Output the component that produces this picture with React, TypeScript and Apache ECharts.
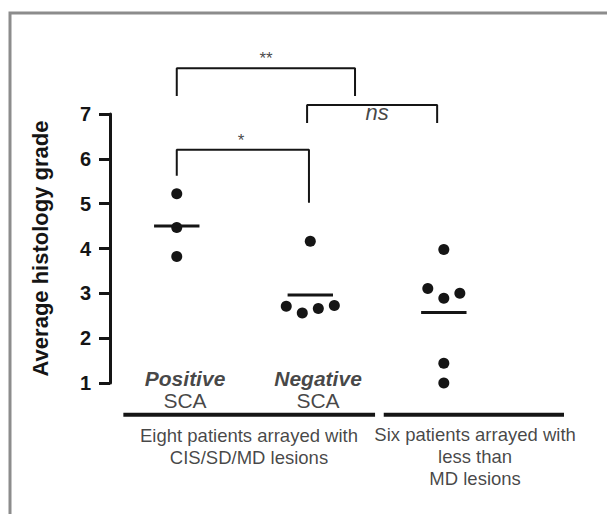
import React, { useEffect, useRef } from "react";
import * as echarts from "echarts";

// Group positions on the x scale
const groupX = [1, 2, 3];
const groupNames = ["Positive SCA", "Negative SCA", "Less than MD"];

// Average histology grade per patient
const positiveValues = [5.22, 4.47, 3.82];
const positiveJitter = [0, 0, 0];
const negativeValues = [4.16, 2.71, 2.56, 2.66, 2.73];
const negativeJitter = [0, -0.18, -0.06, 0.06, 0.18];
const lesserValues = [3.98, 3.11, 2.89, 3.0, 1.44, 1.0];
const lesserJitter = [0, -0.12, 0, 0.12, 0, 0];

const yTicks = [1, 2, 3, 4, 5, 6, 7];

// Significance brackets: [from, to, top, leftEnd, rightEnd]
const bracketStars = [1, 2.335, 8.02, 7.4, 7.4];
const bracketNs = [1.976, 2.95, 7.2, 6.8, 6.8];
const bracketOne = [1, 1.99, 6.2, 5.62, 5.02];
const bracketLabels = ["**", "ns", "*"];
const bracketLabelPos = [
  [1.669, 8.24],
  [2.5, 7.03],
  [1.481, 6.42],
];

// Category labels beneath the axis
const catLabelTop = ["Positive", "Negative"];
const catLabelBottom = ["SCA", "SCA"];
const catLabelX = [1.062, 2.058];
const groupLineSegments = [
  [0.6, 2.485],
  [2.55, 3.9],
];
const groupLineY = 0.29;
const groupCaptions = [
  "Eight patients arrayed with\nCIS/SD/MD lesions",
  "Six patients arrayed with\nless than\nMD lesions",
];
const groupCaptionPos = [
  [1.541, -0.41],
  [3.234, -0.64],
];

const meanHalfWidth = 0.17;
const INK = "#151515";
const FONT = "'Liberation Sans', Arial, Helvetica, sans-serif";

const mean = (a: number[]) => a.reduce((s, v) => s + v, 0) / a.length;

export default function App() {
  const ref = useRef<HTMLDivElement>(null);
  useEffect(() => {
    if (!ref.current) return;
    const chart = echarts.init(ref.current, null, { renderer: "svg" });
    const groups = [
      { v: positiveValues, j: positiveJitter },
      { v: negativeValues, j: negativeJitter },
      { v: lesserValues, j: lesserJitter },
    ];
    const series: any[] = [];
    groups.forEach((g, gi) => {
      series.push({
        type: "scatter",
        name: groupNames[gi],
        data: g.v.map((v, i) => [groupX[gi] + g.j[i], v]),
        symbolSize: 11,
        itemStyle: { color: INK, opacity: 1 },
        silent: true,
        clip: false,
      });
      const m = mean(g.v);
      series.push({
        type: "line",
        data: [
          [groupX[gi] - meanHalfWidth, m],
          [groupX[gi] + meanHalfWidth, m],
        ],
        symbol: "none",
        lineStyle: { color: INK, width: 3 },
        silent: true,
        clip: false,
      });
    });
    [bracketStars, bracketNs, bracketOne].forEach((b) => {
      series.push({
        type: "line",
        data: [
          [b[0], b[3]],
          [b[0], b[2]],
          [b[1], b[2]],
          [b[1], b[4]],
        ],
        symbol: "none",
        lineStyle: { color: INK, width: 2 },
        silent: true,
        clip: false,
      });
    });
    groupLineSegments.forEach((s) => {
      series.push({
        type: "line",
        data: [
          [s[0], groupLineY],
          [s[1], groupLineY],
        ],
        symbol: "none",
        lineStyle: { color: INK, width: 4, cap: "butt" },
        silent: true,
        clip: false,
      });
    });
    const textItems: any[] = [];
    bracketLabels.forEach((t, i) => {
      textItems.push({
        value: bracketLabelPos[i],
        label: {
          formatter: t,
          fontSize: t === "ns" ? 22 : 17,
          fontStyle: t === "ns" ? "italic" : "normal",
        },
      });
    });
    catLabelTop.forEach((t, i) => {
      textItems.push({
        value: [catLabelX[i], 1.11],
        label: { formatter: t, fontSize: 21, fontWeight: "bold", fontStyle: "italic" },
      });
      textItems.push({
        value: [catLabelX[i], 0.62],
        label: { formatter: catLabelBottom[i], fontSize: 21 },
      });
    });
    groupCaptions.forEach((t, i) => {
      textItems.push({
        value: groupCaptionPos[i],
        label: { formatter: t, fontSize: 18.5, lineHeight: 22, align: "center" },
      });
    });
    series.push({
      type: "scatter",
      data: textItems,
      symbolSize: 0,
      itemStyle: { color: "transparent" },
      silent: true,
      clip: false,
      label: {
        show: true,
        position: "inside",
        color: INK,
        fontFamily: FONT,
        align: "center",
        verticalAlign: "middle",
      },
    });

    chart.setOption({
      animation: false,
      tooltip: { show: false },
      textStyle: { fontFamily: FONT },
      grid: { left: 110, top: 114, width: 454, height: 269 },
      xAxis: { type: "value", min: 0.5, max: 3.9, show: false },
      yAxis: {
        type: "value",
        min: yTicks[0],
        max: yTicks[yTicks.length - 1],
        interval: 1,
        name: "Average histology grade",
        nameLocation: "middle",
        nameGap: 59,
        nameTextStyle: { fontSize: 22, fontWeight: "bold", color: INK, fontFamily: FONT },
        axisLine: { show: true, lineStyle: { color: INK, width: 3 } },
        axisTick: { show: true, inside: false, length: 11, lineStyle: { color: INK, width: 3 } },
        splitLine: { show: false },
        axisLabel: { fontSize: 20, fontWeight: "bold", color: INK, margin: 19, fontFamily: FONT },
      },
      graphic: [
        {
          type: "polyline",
          shape: { points: [[10, 514], [10, 13], [607, 13]] },
          style: { stroke: "#8c8c8c", lineWidth: 3, fill: null },
          silent: true,
        },
      ],
      series,
    });
    return () => chart.dispose();
  }, []);
  return (
    <div
      ref={ref}
      style={{ position: "absolute", left: 0, top: 0, width: 607, height: 514, background: "#fff" }}
    />
  );
}
